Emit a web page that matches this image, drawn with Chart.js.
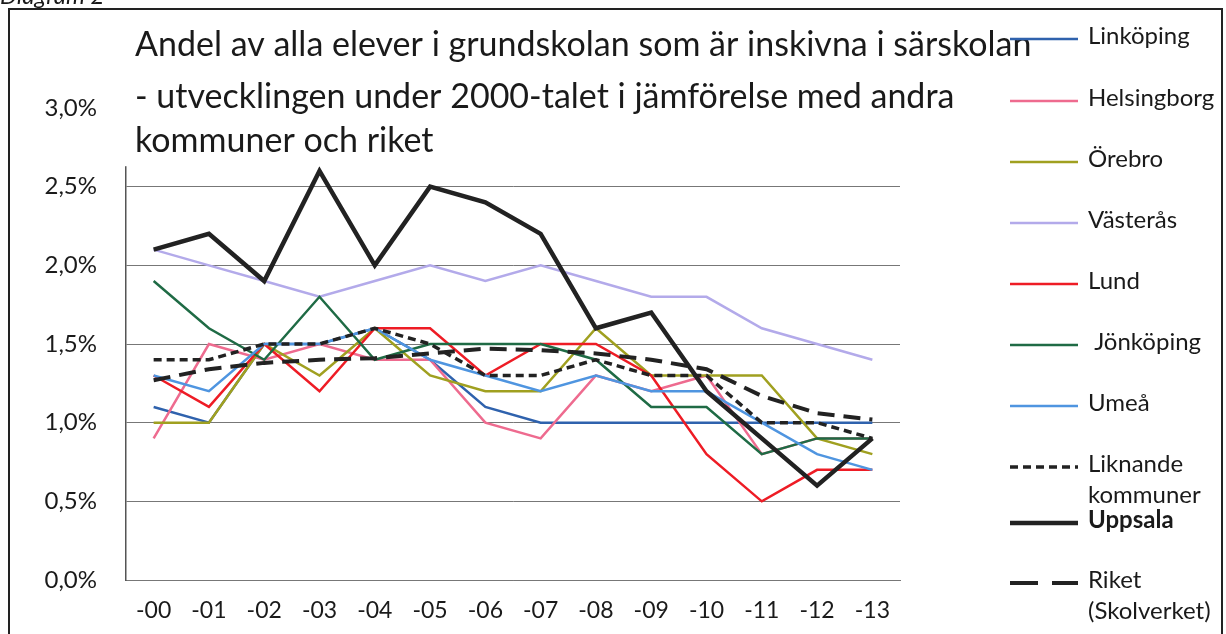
<!DOCTYPE html>
<html>
<head>
<meta charset="utf-8">
<script src="https://cdn.jsdelivr.net/npm/chart.js@4.4.1/dist/chart.umd.min.js"></script>
<style>
  html, body { margin: 0; padding: 0; background: #fff; }
  #wrap { width: 1226px; height: 634px; }
</style>
</head>
<body>
<div id="wrap"><canvas id="lineChart" width="1226" height="634"></canvas></div>
<script>
// years on the category axis
const years = ['-00', '-01', '-02', '-03', '-04', '-05', '-06', '-07', '-08', '-09', '-10', '-11', '-12', '-13'];

// share (%) of pupils enrolled in särskolan
const linkoping   = [1.1, 1.0, 1.5, 1.5, 1.6, 1.4, 1.1, 1.0, 1.0, 1.0, 1.0, 1.0, 1.0, 1.0];
const helsingborg = [0.9, 1.5, 1.4, 1.5, 1.4, 1.4, 1.0, 0.9, 1.3, 1.2, 1.3, 0.8, 0.9, 0.9];
const orebro      = [1.0, 1.0, 1.5, 1.3, 1.6, 1.3, 1.2, 1.2, 1.6, 1.3, 1.3, 1.3, 0.9, 0.8];
const vasteras    = [2.1, 2.0, 1.9, 1.8, 1.9, 2.0, 1.9, 2.0, 1.9, 1.8, 1.8, 1.6, 1.5, 1.4];
const lund        = [1.3, 1.1, 1.5, 1.2, 1.6, 1.6, 1.3, 1.5, 1.5, 1.3, 0.8, 0.5, 0.7, 0.7];
const jonkoping   = [1.9, 1.6, 1.4, 1.8, 1.4, 1.5, 1.5, 1.5, 1.4, 1.1, 1.1, 0.8, 0.9, 0.9];
const umea        = [1.3, 1.2, 1.5, 1.5, 1.6, 1.4, 1.3, 1.2, 1.3, 1.2, 1.2, 1.0, 0.8, 0.7];
const liknande    = [1.4, 1.4, 1.5, 1.5, 1.6, 1.5, 1.3, 1.3, 1.4, 1.3, 1.3, 1.0, 1.0, 0.9];
const uppsala     = [2.1, 2.2, 1.9, 2.6, 2.0, 2.5, 2.4, 2.2, 1.6, 1.7, 1.2, 0.9, 0.6, 0.9];
const riket       = [1.27, 1.34, 1.38, 1.40, 1.41, 1.44, 1.47, 1.46, 1.44, 1.40, 1.34, 1.17, 1.06, 1.02];

const yTicks = [0, 0.5, 1.0, 1.5, 2.0, 2.5, 3.0];

const titleLines = [
  'Andel av alla elever i grundskolan som är inskivna i särskolan',
  '- utvecklingen under 2000-talet i jämförelse med andra',
  'kommuner och riket'
];

const FONT = 'Lato, "Open Sans", sans-serif';

function series(label, data, color, width, dash, bold, legendDash) {
  return {
    label: label,
    data: data,
    borderColor: color,
    backgroundColor: color,
    borderWidth: width,
    borderDash: dash || [],
    legendDash: legendDash || dash || [],
    pointRadius: 0,
    pointHoverRadius: 0,
    tension: 0,
    fill: false,
    bold: !!bold
  };
}

const datasets = [
  series(['Linköping'], linkoping, '#2f62ad', 2.5),
  series(['Helsingborg'], helsingborg, '#ee6b8f', 2.5),
  series(['Örebro'], orebro, '#a0a020', 2.5),
  series(['Västerås'], vasteras, '#b3aaea', 2.5),
  series(['Lund'], lund, '#ee1c25', 2.5),
  series([' Jönköping'], jonkoping, '#1f6b45', 2.5),
  series(['Umeå'], umea, '#4f95e0', 2.5),
  series(['Liknande', 'kommuner'], liknande, '#222', 3.5, [8, 5]),
  series(['Uppsala'], uppsala, '#222', 4.5, [], true),
  series(['Riket', '(Skolverket)'], riket, '#222', 4, [17, 9], false, [28, 14])
];
// later series on top, like in the original
datasets.forEach((d, i) => { d.order = datasets.length - i; });

// legend row centres (y) in the right column
const legendY = [36, 98, 159, 220, 281, 342, 403, 464, 520, 580];

const decor = {
  id: 'decor',
  afterDraw(chart) {
    const ctx = chart.ctx;
    const area = chart.chartArea;
    const y = chart.scales.y;
    ctx.save();

    // white title box over the top of the plot (hides the 3,0 gridline)
    ctx.fillStyle = '#fff';
    ctx.fillRect(area.left - 2, area.top - 3, area.right - area.left + 6, y.getPixelForValue(2.63) - area.top + 3);

    // title
    ctx.fillStyle = '#1a1a1a';
    ctx.font = '34px ' + FONT;
    ctx.textBaseline = 'middle';
    ctx.textAlign = 'left';
    const ty = [45, 97, 141];
    titleLines.forEach((t, i) => ctx.fillText(t, 135, ty[i]));

    // legend
    chart.data.datasets.forEach((ds, i) => {
      const ly = legendY[i];
      ctx.beginPath();
      ctx.strokeStyle = ds.borderColor;
      ctx.lineWidth = ds.borderWidth;
      ctx.setLineDash(ds.legendDash);
      ctx.moveTo(1010, ly + 3);
      ctx.lineTo(1078, ly + 3);
      ctx.stroke();
      ctx.setLineDash([]);
      ctx.fillStyle = '#1a1a1a';
      ctx.font = (ds.bold ? 'bold ' : '') + '24px ' + FONT;
      ds.label.forEach((t, k) => ctx.fillText(t, 1088, ly + k * 31));
    });

    // outer frame and cut-off caption
    ctx.strokeStyle = '#222';
    ctx.lineWidth = 2;
    ctx.strokeRect(9, 9, 1213, 640);
    ctx.fillStyle = '#1a1a1a';
    ctx.textBaseline = 'alphabetic';
    ctx.font = 'italic 24px ' + FONT;
    ctx.fillText('Diagram 2', 0, 4);
    ctx.restore();
  }
};

const ctx = document.getElementById('lineChart').getContext('2d');
const chart = new Chart(ctx, {
  type: 'line',
  data: { labels: years, datasets: datasets },
  options: {
    responsive: false,
    animation: false,
    events: [],
    layout: { padding: { left: 0, top: 108, right: 326, bottom: 0 } },
    scales: {
      x: {
        offset: true,
        grid: { display: false, drawTicks: false },
        border: { display: true, color: '#777', width: 1 },
        ticks: { color: '#1a1a1a', font: { family: FONT, size: 23 }, padding: 17, maxRotation: 0, autoSkip: false },
        afterFit(scale) { scale.height = 54; }
      },
      y: {
        min: 0,
        max: 3,
        afterBuildTicks(scale) { scale.ticks = yTicks.map(v => ({ value: v })); },
        grid: { color: '#777', lineWidth: 1, drawTicks: false },
        border: { display: true, color: '#555', width: 1.5 },
        ticks: {
          color: '#1a1a1a',
          font: { family: FONT, size: 24 },
          padding: 29,
          callback: v => v.toFixed(1).replace('.', ',') + '%'
        },
        afterFit(scale) { scale.width = 126; }
      }
    },
    plugins: {
      legend: { display: false },
      title: { display: false },
      tooltip: { enabled: false }
    }
  },
  plugins: [decor]
});
</script>
</body>
</html>
